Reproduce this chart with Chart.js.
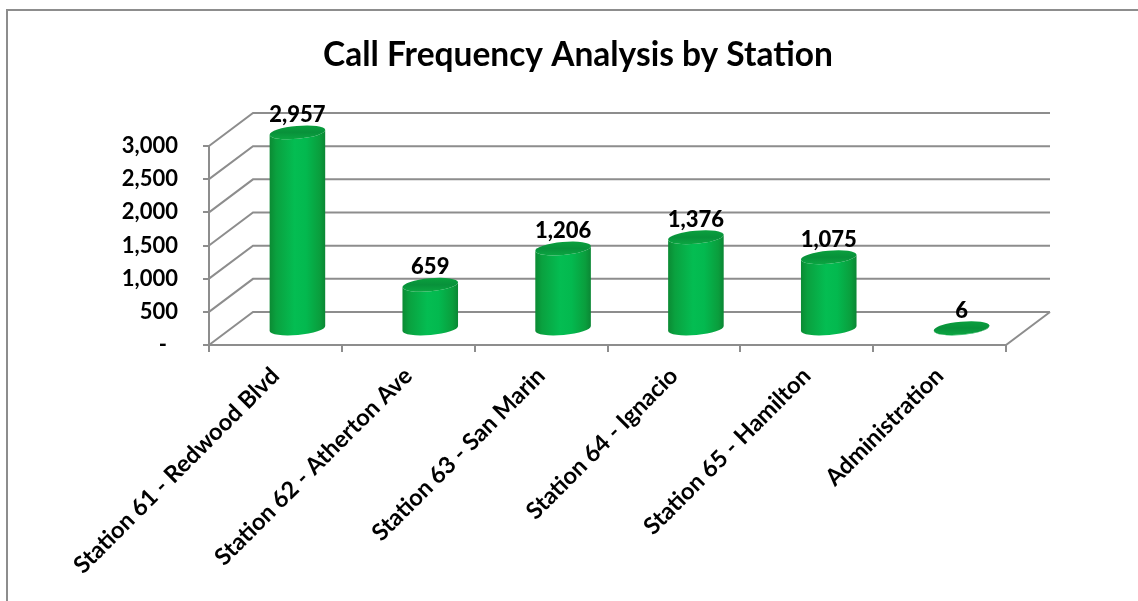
<!DOCTYPE html>
<html>
<head>
<meta charset="utf-8">
<title>Call Frequency Analysis by Station</title>
<script src="https://cdn.jsdelivr.net/npm/chart.js@4.4.1/dist/chart.umd.min.js"></script>
<style>
  html, body { margin: 0; padding: 0; background: #fff; }
  #wrap { position: relative; width: 1138px; height: 601px; }
  #frame { position: absolute; left: 6px; top: 9px; width: 1200px; height: 700px;
           border-left: 2px solid #8d8d8d; border-top: 2px solid #8d8d8d; box-sizing: border-box; }
  canvas { position: absolute; left: 0; top: 0; }
</style>
</head>
<body>
<div id="wrap">
  <div id="frame"></div>
  <canvas id="callChart" width="1138" height="601"></canvas>
</div>
<script>
// --- Data ---
const stations = [
  'Station 61 - Redwood Blvd',
  'Station 62 - Atherton Ave',
  'Station 63 - San Marin',
  'Station 64 - Ignacio',
  'Station 65 - Hamilton',
  'Administration'
];
const callCounts = [2957, 659, 1206, 1376, 1075, 6];
const yTicks = [0, 500, 1000, 1500, 2000, 2500, 3000];
const chartTitle = 'Call Frequency Analysis by Station';

// depth of the 3D box (front plane -> back wall)
const DEPTH_X = 44;
const DEPTH_Y = -33;
const GRID = '#8d8d8d';
const FONT = 'Lato, "Open Sans", sans-serif';

// accounting style: zero shows as a dash
const fmt = v => v === 0 ? '-\u2002' : v.toLocaleString('en-US');

// title centred on the whole canvas (not just the plot box)
const titlePlugin = {
  id: 'centerTitle',
  afterDraw(chart) {
    const { ctx } = chart;
    ctx.save();
    ctx.fillStyle = '#000';
    ctx.font = 'bold 33.5px ' + FONT;
    ctx.textAlign = 'center';
    ctx.textBaseline = 'middle';
    ctx.fillText(chartTitle, 578, 55);
    ctx.restore();
  }
};

// back wall, side wall diagonals and floor
const wallPlugin = {
  id: 'wall3d',
  beforeDatasetsDraw(chart) {
    const { ctx, chartArea: a, scales: { y } } = chart;
    ctx.save();
    ctx.strokeStyle = GRID;
    ctx.lineWidth = 2;
    yTicks.forEach(v => {
      const py = y.getPixelForValue(v);
      ctx.beginPath();
      ctx.moveTo(a.left, py);
      ctx.lineTo(a.left + DEPTH_X, py + DEPTH_Y);
      ctx.lineTo(a.right + DEPTH_X, py + DEPTH_Y);
      ctx.stroke();
    });
    // floor: front edge and right edge
    const py0 = y.getPixelForValue(0);
    ctx.beginPath();
    ctx.moveTo(a.left, py0);
    ctx.lineTo(a.right, py0);
    ctx.lineTo(a.right + DEPTH_X, py0 + DEPTH_Y);
    ctx.stroke();
    ctx.restore();
  }
};

// cylinders placed at mid depth, with value labels
const cylinderPlugin = {
  id: 'cylinders',
  afterDatasetsDraw(chart) {
    const { ctx, scales: { y } } = chart;
    const meta = chart.getDatasetMeta(0);
    const data = chart.data.datasets[0].data;
    const ry = 6.5;
    const tilt = -0.09;
    meta.data.forEach((bar, i) => {
      const cx = bar.x + DEPTH_X / 2;
      const rx = bar.width / 2;
      const yTop = y.getPixelForValue(data[i]) + DEPTH_Y / 2;
      const yBase = y.getPixelForValue(0) + DEPTH_Y / 2;

      const g = ctx.createLinearGradient(cx - rx, 0, cx + rx, 0);
      g.addColorStop(0, '#0b8a33');
      g.addColorStop(0.12, '#0aa13f');
      g.addColorStop(0.45, '#04bd52');
      g.addColorStop(0.65, '#03b94f');
      g.addColorStop(0.9, '#0a9e3d');
      g.addColorStop(1, '#0b8634');

      ctx.save();
      // body
      ctx.beginPath();
      ctx.ellipse(cx, yBase, rx, ry, tilt, 0, Math.PI, false);
      ctx.lineTo(cx - rx * Math.cos(tilt), yTop - rx * Math.sin(tilt));
      ctx.ellipse(cx, yTop, rx, ry, tilt, Math.PI, 0, true);
      ctx.closePath();
      ctx.fillStyle = g;
      ctx.fill();

      // top cap
      const tg = ctx.createLinearGradient(0, yTop - ry, 0, yTop + ry);
      tg.addColorStop(0, '#0a9f3e');
      tg.addColorStop(0.5, '#08913a');
      tg.addColorStop(1, '#0ba441');
      ctx.beginPath();
      ctx.ellipse(cx, yTop, rx, ry, tilt, 0, Math.PI * 2);
      ctx.fillStyle = tg;
      ctx.fill();

      // value label
      ctx.fillStyle = '#000';
      ctx.font = '900 22px ' + FONT;
      ctx.textAlign = 'center';
      ctx.textBaseline = 'alphabetic';
      ctx.fillText(data[i].toLocaleString('en-US'), cx, yTop - ry - 4);
      ctx.restore();
    });
  }
};

new Chart(document.getElementById('callChart').getContext('2d'), {
  type: 'bar',
  data: {
    labels: stations,
    datasets: [{
      data: callCounts,
      backgroundColor: 'rgba(0,0,0,0)',
      borderWidth: 0,
      categoryPercentage: 1,
      barPercentage: 0.42
    }]
  },
  options: {
    responsive: false,
    animation: false,
    events: [],
    layout: { padding: { left: 0, right: 132, top: 146, bottom: 0 } },
    plugins: {
      legend: { display: false },
      tooltip: { enabled: false },
      title: { display: false }
    },
    scales: {
      x: {
        grid: { display: true, drawOnChartArea: false, drawTicks: true, tickLength: 7, color: GRID, lineWidth: 2, offset: true },
        border: { display: false },
        ticks: {
          color: '#000',
          font: { family: FONT, size: 23.5, weight: 'bold' },
          minRotation: 45,
          maxRotation: 45,
          padding: 10
        },
        afterFit(scale) { scale.height = 601 - 345; }
      },
      y: {
        min: 0,
        max: 3000,
        afterBuildTicks(scale) { scale.ticks = yTicks.map(v => ({ value: v })); },
        grid: { display: true, drawOnChartArea: false, drawTicks: true, tickLength: 6, color: GRID, lineWidth: 2 },
        border: { display: true, color: GRID, width: 2 },
        ticks: {
          color: '#000',
          font: { family: FONT, size: 22, weight: 'bold' },
          padding: 25,
          callback: v => fmt(v)
        },
        afterFit(scale) { scale.width = 209; }
      }
    }
  },
  plugins: [wallPlugin, cylinderPlugin, titlePlugin]
});
</script>
</body>
</html>
